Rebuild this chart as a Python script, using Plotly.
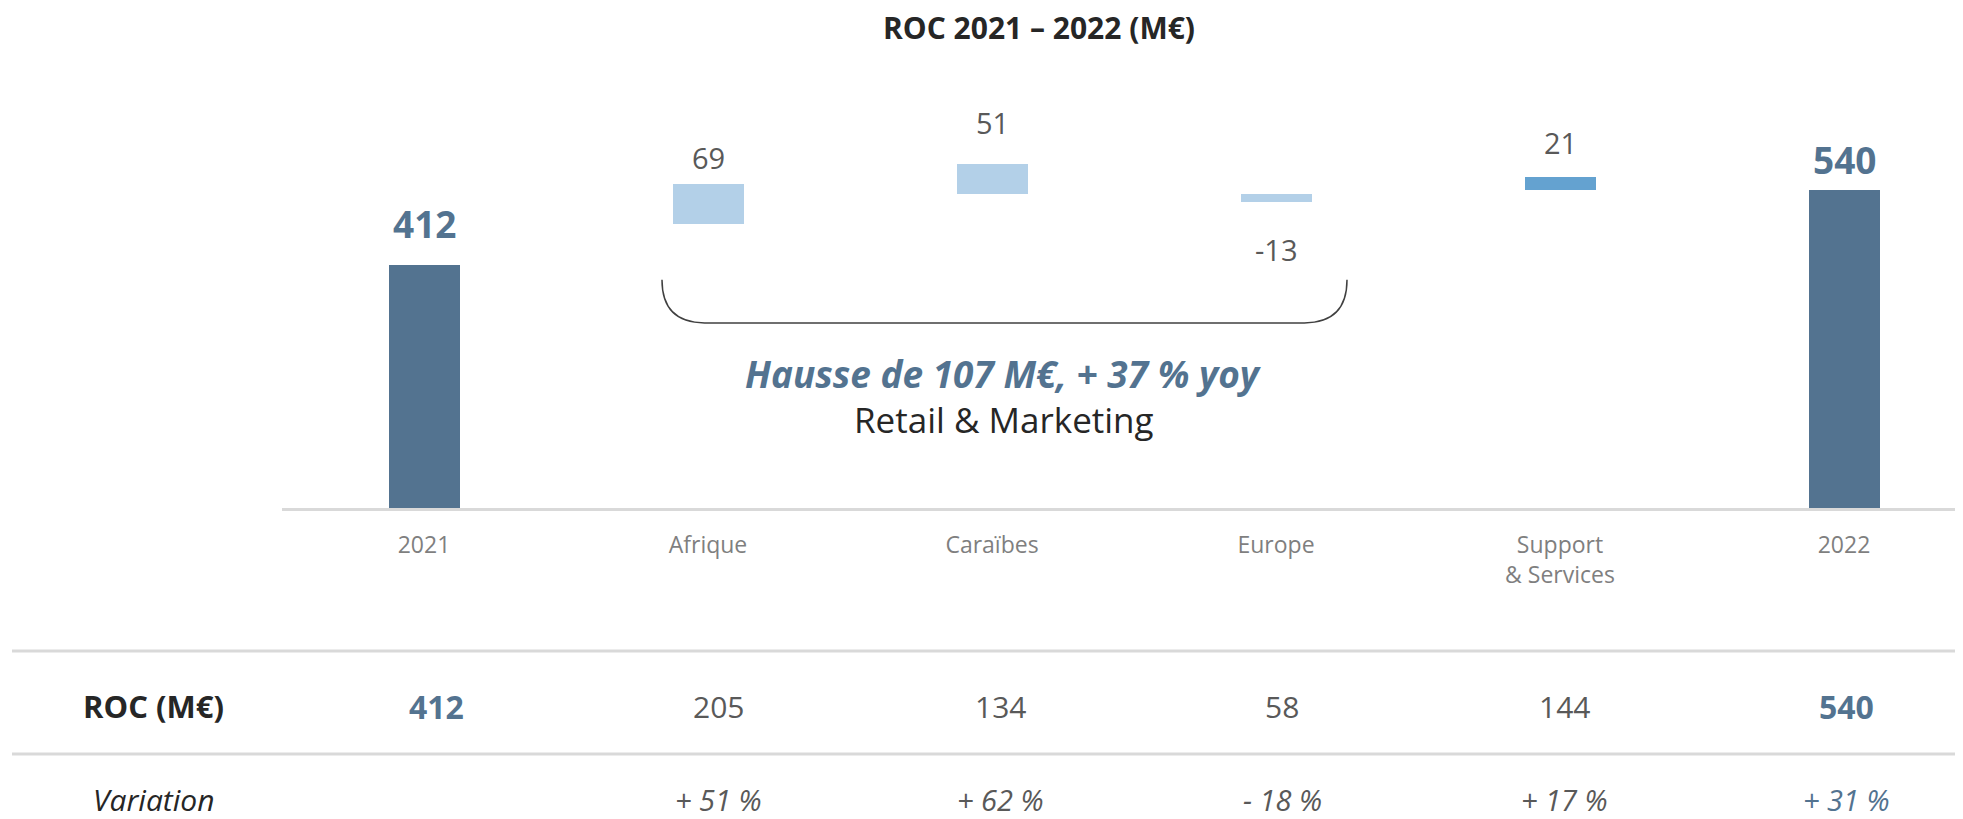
import plotly.graph_objects as go

# ---------------- data ----------------
categories = ["2021", "Afrique", "Caraïbes", "Europe", "Support<br>& Services", "2022"]
roc_2021 = 412
roc_2022 = 540
deltas = [69, 51, -13, 21]                 # Afrique, Caraïbes, Europe, Support & Services
segment_roc = [205, 134, 58, 144]          # ROC 2022 per segment
variation = ["", "+ 51 %", "+ 62 %", "- 18 %", "+ 17 %", "+ 31 %"]

# ---------------- derived ----------------
xs = list(range(len(categories)))
bases, heights, anchors = [0], [roc_2021], [roc_2021]
running = roc_2021
for d in deltas:
    end = running + d
    bases.append(end)
    heights.append(abs(d))
    anchors.append(end + abs(d) if d >= 0 else end)
    running = end
bases.append(0)
heights.append(roc_2022)
anchors.append(roc_2022)
bar_labels = [str(roc_2021)] + [str(d) for d in deltas] + [str(roc_2022)]
table_roc = [roc_2021] + segment_roc + [roc_2022]

rm_delta = sum(deltas[:3])
rm_prev = sum(segment_roc[:3]) - rm_delta
rm_pct = round(100 * rm_delta / rm_prev)

# ---------------- styles ----------------
DARK = "#537390"
LIGHT = "#B3D0E8"
MID = "#64A2D0"
bar_colors = [DARK, LIGHT, LIGHT, LIGHT, MID, DARK]
label_shift = [42, 26, 42, -47, 35, 30]
FONT = "Open Sans"
OFF = 8  # page body margin compensation

fig = go.Figure()
fig.add_trace(go.Bar(
    x=xs, y=heights, base=bases, width=0.25,
    marker=dict(color=bar_colors, line=dict(width=0)),
    hoverinfo="skip", showlegend=False,
))

annotations = []
for i, (x, a, t) in enumerate(zip(xs, anchors, bar_labels)):
    total = i in (0, len(xs) - 1)
    annotations.append(dict(
        x=x, y=a, xref="x", yref="y", text=f"<b>{t}</b>" if total else t,
        showarrow=False, xanchor="center", yanchor="middle", yshift=label_shift[i],
        font=dict(family=FONT, size=37 if total else 29, color=DARK if total else "#595959"),
    ))

# Retail & Marketing commentary
annotations.append(dict(
    x=2.042, y=228, xref="x", yref="y", showarrow=False, xanchor="center", yanchor="middle",
    text=f"<b><i>Hausse de {rm_delta} M€, + {rm_pct} % yoy</i></b>",
    font=dict(family=FONT, size=37, color=DARK),
))
annotations.append(dict(
    x=2.042, y=150, xref="x", yref="y", showarrow=False, xanchor="center", yanchor="middle",
    text="Retail & Marketing",
    font=dict(family=FONT, size=35, color="#262626"),
))

# table
ROW_ROC = (508 - 706) / 448
ROW_VAR = (508 - 799) / 448
ROW_HEAD_X = (153 - 282) / 1689
annotations.append(dict(x=ROW_HEAD_X, y=ROW_ROC, xref="paper", yref="paper", showarrow=False,
                        xanchor="center", yanchor="middle",
                        text="<b>ROC (M€)</b>", font=dict(family=FONT, size=31, color="#262626")))
annotations.append(dict(x=ROW_HEAD_X, y=ROW_VAR, xref="paper", yref="paper", showarrow=False,
                        xanchor="center", yanchor="middle",
                        text="<i>Variation</i>", font=dict(family=FONT, size=30, color="#262626")))
for i, (x, v, var) in enumerate(zip(xs, table_roc, variation)):
    total = i in (0, len(xs) - 1)
    annotations.append(dict(
        x=x, y=ROW_ROC, xref="x", yref="paper", showarrow=False, xshift=12 - 2 * i,
        xanchor="center", yanchor="middle",
        text=f"<b>{v}</b>" if total else str(v),
        font=dict(family=FONT, size=32 if total else 30, color=DARK if total else "#595959"),
    ))
    if var:
        annotations.append(dict(
            x=x, y=ROW_VAR, xref="x", yref="paper", showarrow=False, xshift=12 - 2 * i,
            xanchor="center", yanchor="middle",
            text=f"<i>{var}</i>",
            font=dict(family=FONT, size=29, color=DARK if i == len(xs) - 1 else "#595959"),
        ))

# bracket under Retail & Marketing segments
xl, xr, yt, yb, rx = 1 - 0.162, 3 + 0.25, 387, 314, 0.15
shapes = [
    dict(type="path", xref="x", yref="y",
         path=f"M {xl},{yt} Q {xl},{yb} {xl + rx},{yb} L {xr - rx},{yb} Q {xr},{yb} {xr},{yt}",
         line=dict(color="#404040", width=1.5)),
    dict(type="line", xref="paper", yref="paper", x0=(12 - 282) / 1689, x1=1, y0=-0.319, y1=-0.319,
         line=dict(color="#D9D9D9", width=3)),
    dict(type="line", xref="paper", yref="paper", x0=(12 - 282) / 1689, x1=1, y0=-0.549, y1=-0.549,
         line=dict(color="#D9D9D9", width=3)),
]

fig.update_layout(
    width=1963, height=819,
    margin=dict(l=282 - OFF, r=0, t=60 - OFF, b=311 + OFF),
    paper_bgcolor="white", plot_bgcolor="white",
    title=dict(text="<b>ROC 2021 – 2022 (M€)</b>", x=(1039 - OFF) / 1963, xref="container",
               y=1 - (28 - OFF) / 819, yref="container", xanchor="center", yanchor="middle",
               font=dict(family=FONT, size=30, color="#262626")),
    xaxis=dict(range=[-0.5, -0.5 + 1689 / 284], tickvals=xs, ticktext=categories,
               showgrid=False, zeroline=False, showline=True, linecolor="#D9D9D9", linewidth=2.5,
               ticks="outside", ticklen=15, tickcolor="rgba(0,0,0,0)",
               tickfont=dict(family=FONT, size=23, color="#7F7F7F"), fixedrange=True),
    yaxis=dict(range=[0, 760], visible=False, showgrid=False, zeroline=False, fixedrange=True),
    annotations=annotations, shapes=shapes,
    showlegend=False, bargap=0,
)

fig.write_html("out.html")
